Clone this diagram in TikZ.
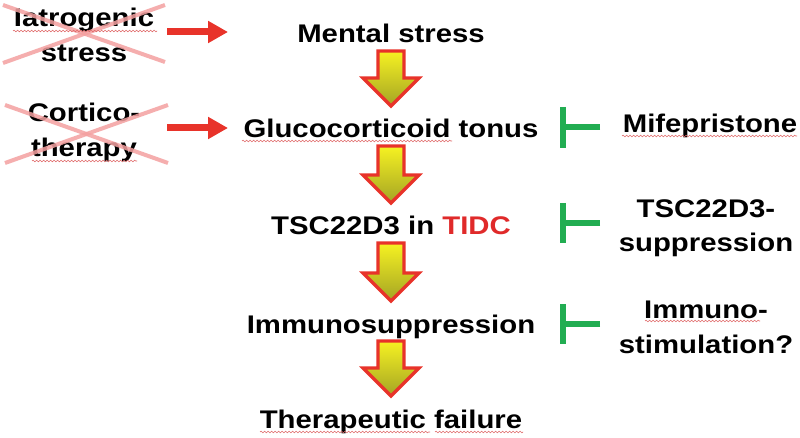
\documentclass[tikz,border=0pt]{standalone}
\usepackage{fontspec}
\newfontfamily\af{Liberation Sans}[FakeStretch=1.15]
\usetikzlibrary{arrows.meta,calc,decorations.pathmorphing}
\definecolor{arrred}{HTML}{E8332A}
\definecolor{crosspink}{HTML}{F4A0A0}
\definecolor{inhgreen}{HTML}{22AD52}
\definecolor{tidcred}{HTML}{E02A2A}
\definecolor{bayellow}{HTML}{F6F222}
\definecolor{bamid}{HTML}{E4E022}
\definecolor{baolive}{HTML}{A4A424}
\definecolor{squigred}{HTML}{E06868}
\newcommand\blockarrow[2]{%
  \draw[barrow] let \p1=($(#1.base)+(0,8)$), \p2=($(#2.base)+(0,-32)$) in
    (\x1-13pt,\y1) -- (\x1+13pt,\y1) -- (\x1+13pt,\y2+28pt) -- (\x1+28pt,\y2+28pt)
    -- (\x1,\y2) -- (\x1-28pt,\y2+28pt) -- (\x1-13pt,\y2+28pt) -- cycle;}
\begin{document}
\begin{tikzpicture}[x=1pt,y=-1pt,
  lbl/.style={font=\af\bfseries\fontsize{25.5}{35}\selectfont, inner sep=0pt, align=center, anchor=base},
  barrow/.style={draw=arrred, line width=3.2pt, line join=miter, top color=bayellow, middle color=bamid, bottom color=baolive},
  redarrow/.style={draw=arrred, line width=7pt, -{Triangle[length=20pt,width=21pt]}},
  crossline/.style={draw=crosspink, line width=4pt, opacity=0.85},
  inh/.style={draw=inhgreen, line width=5.5pt},
  squig/.style={draw=squigred, line width=0.6pt, decorate, decoration={snake, amplitude=0.8pt, segment length=3.5pt}}]
\path[fill=white, use as bounding box] (0,0) rectangle (800,438);

% main chain
\node[lbl] (ms) at (391,43) {Mental stress};
\node[lbl] (gt) at (391,138) {Glucocorticoid tonus};
\node[lbl] (tsc) at (391,235) {TSC22D3 in \textcolor{tidcred}{TIDC}};
\node[lbl] (im) at (391,333) {Immunosuppression};
\node[lbl] (tf) at (391,428) {Therapeutic failure};

\blockarrow{ms}{gt}
\blockarrow{gt}{tsc}
\blockarrow{tsc}{im}
\blockarrow{im}{tf}

% left causes (base anchor = last line's baseline)
\node[lbl] (ia) at (84,62) {Iatrogenic\\stress};
\node[lbl] (co) at (84,157) {Cortico-\\therapy};

\draw[crossline] (3,5) -- (165,62);
\draw[crossline] (3,63) -- (165,5);
\draw[crossline] (5,105) -- (168,163);
\draw[crossline] (5,163) -- (168,105);

\coordinate (ra1s) at (167,32);
\coordinate (ra1e) at (228,32);
\coordinate (ra2s) at (167,128);
\coordinate (ra2e) at (228,128);
\draw[redarrow] (ra1s) -- (ra1e);
\draw[redarrow] (ra2s) -- (ra2e);

% right inhibitors
\node[lbl] (mf) at (710,133) {Mifepristone};
\node[lbl] (ts) at (706,252) {TSC22D3-\\suppression};
\node[lbl] (is) at (706,353) {Immuno-\\stimulation?};

\coordinate (t1s) at (600,127);
\coordinate (t1e) at (563,127);
\coordinate (t2s) at (600,223);
\coordinate (t2e) at (563,223);
\coordinate (t3s) at (600,324);
\coordinate (t3e) at (563,324);
\draw[inh] (t1s) -- (t1e);
\draw[inh] ($(t1e)+(0,-20)$) -- ($(t1e)+(0,21)$);
\draw[inh] (t2s) -- (t2e);
\draw[inh] ($(t2e)+(0,-20)$) -- ($(t2e)+(0,20)$);
\draw[inh] (t3s) -- (t3e);
\draw[inh] ($(t3e)+(0,-20)$) -- ($(t3e)+(0,20)$);

% spell-check underlines
\draw[squig] (13,31) -- (157,31);
\draw[squig] (32,161) -- (137,161);
\draw[squig] (242,141) -- (452,141);
\draw[squig] (622,136) -- (797,136);
\draw[squig] (645,321) -- (760,321);
\draw[squig] (260,432) -- (430,432);
\draw[squig] (435,432) -- (523,432);
\end{tikzpicture}
\end{document}
